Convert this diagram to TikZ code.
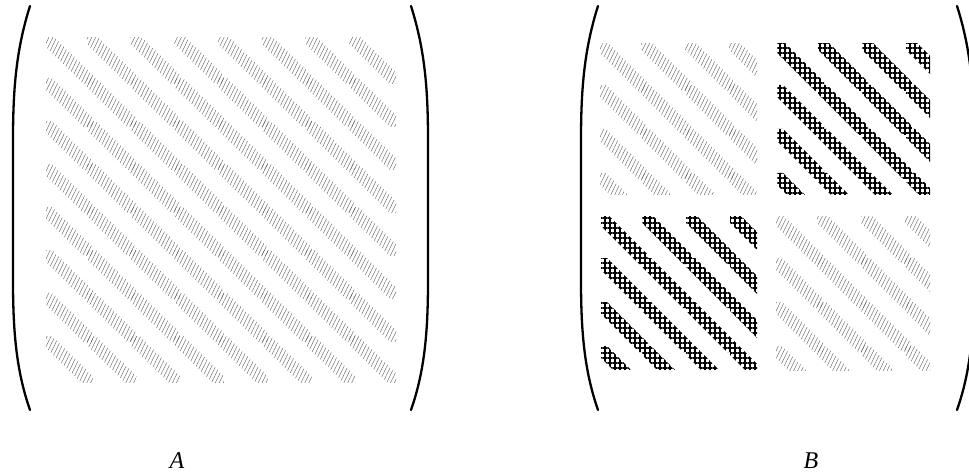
\documentclass[tikz,border=0pt]{standalone}
\usepackage{fontspec}
\setmainfont{Liberation Serif}
\usetikzlibrary{patterns,patterns.meta}
\tikzset{
  graylines/.style={pattern={Lines[angle=64,distance=3.5pt,line width=0.45pt]},pattern color=black!60},
  crossgrid/.style={pattern={Hatch[angle=0,distance=5pt,line width=1.1pt]},pattern color=black},
  parenline/.style={line width=2.3pt,line cap=round},
  lbl/.style={font=\fontsize{24}{24}\selectfont\itshape,inner sep=0pt}
}
\def\ovl{3}
% #1 x0, #2 y0, #3 width, #4 height, #5 Px, #6 Py, #7 n, #8 half band, #9 style
\newcommand\bandcells[9]{%
  \begin{scope}
    \clip (#1,#2) rectangle ++(#3,#4);
    \foreach \i in {1,...,#7}{%
      \foreach \j in {1,...,#7}{%
        \pgfmathsetmacro\ax{#1+(\j-1)*#5}%
        \pgfmathsetmacro\ay{#2+(\i-1)*#6}%
        \fill[#9] (\ax-\ovl,\ay-\ovl) -- (\ax-\ovl+#8,\ay-\ovl)
          -- (\ax+#5+\ovl,\ay+#6+\ovl-#8) -- (\ax+#5+\ovl,\ay+#6+\ovl)
          -- (\ax+#5+\ovl-#8,\ay+#6+\ovl) -- (\ax-\ovl,\ay-\ovl+#8) -- cycle;
      }%
    }%
  \end{scope}}
\begin{document}
\begin{tikzpicture}[x=1pt,y=-1pt]
\useasboundingbox (0,0) rectangle (969,473);
% matrix A
\bandcells{46}{38}{350}{344}{43.75}{43}{8}{9}{graylines}
% matrix B
\bandcells{600}{44}{157}{151}{44}{44}{4}{9}{graylines}
\bandcells{777}{44}{153}{151}{44}{44}{4}{9}{crossgrid}
\bandcells{601}{217}{156}{153}{44}{44}{4}{9}{crossgrid}
\bandcells{776}{217}{154}{153}{44}{44}{4}{9}{graylines}
% parentheses of A
\draw[parenline] (30,6) .. controls (16,50) and (13,90) .. (13,140) -- (13,280)
  .. controls (13,330) and (16,370) .. (30,410);
\draw[parenline] (411,6) .. controls (425,50) and (428,90) .. (428,140) -- (428,280)
  .. controls (428,330) and (425,370) .. (411,410);
% parentheses of B
\draw[parenline] (598,6) .. controls (584,50) and (581,90) .. (581,140) -- (581,280)
  .. controls (581,330) and (584,370) .. (598,410);
\draw[parenline] (957,6) .. controls (971,50) and (974,90) .. (974,140) -- (974,280)
  .. controls (974,330) and (971,370) .. (957,410);
% labels
\node[lbl] (labA) at (177,461) {A};
\node[lbl] (labB) at (811,461) {B};
\end{tikzpicture}
\end{document}
